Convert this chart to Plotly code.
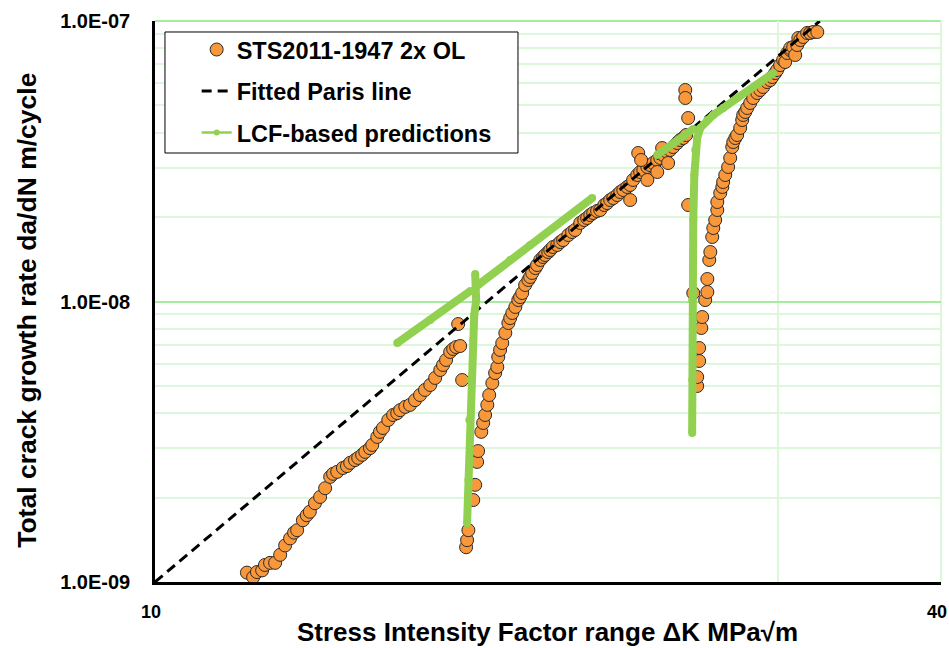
import plotly.graph_objects as go

# Measured crack growth rates, specimen STS2011-1947 with two overloads
dk_meas = [
    11.76, 11.89, 11.97, 12.08, 12.14, 12.25, 12.36, 12.47, 12.58, 12.69,
    12.78, 12.85, 12.98, 13.07, 13.14, 13.26, 13.38, 13.50, 13.62, 13.69,
    13.79, 13.93, 14.03, 14.11, 14.23, 14.31, 14.41, 14.49, 14.61, 14.67,
    14.80, 14.87, 14.95, 15.09, 15.22, 15.33, 15.41, 15.55, 15.68, 15.82,
    15.96, 16.10, 16.25, 16.39, 16.54, 16.62, 16.71, 16.83, 16.92, 17.01,
    17.13, 17.07, 17.19,
    17.31, 17.34, 17.38, 17.53, 17.59, 17.65, 17.68, 17.78, 17.84, 17.90,
    17.97, 18.03, 18.13, 18.22, 18.29, 18.32, 18.38, 18.45, 18.55, 18.65,
    18.71, 18.78, 18.88, 18.98, 19.04, 19.11, 19.21, 19.32, 19.38, 19.45,
    19.56, 19.62, 19.73, 19.83, 19.90, 20.01, 20.08, 20.18, 20.33, 20.44,
    20.54, 20.73, 20.87, 20.98, 21.17, 21.32, 21.43, 21.55, 21.66, 21.81,
    21.93, 22.09, 22.20, 22.32, 22.44, 22.60, 22.72, 22.84, 23.00, 23.12,
    23.24, 23.41, 23.53, 23.66, 23.83, 23.95, 24.08, 24.25, 24.38, 24.51,
    24.68, 24.81, 24.94, 25.12, 25.25, 25.39, 25.52,
    23.12, 23.45, 23.57, 23.83, 24.25, 24.46, 24.72, 25.48, 25.48, 25.61,
    25.61,
    25.84, 26.02, 26.02, 26.11, 26.11, 26.21, 26.25, 26.39, 26.49, 26.49,
    26.58, 26.63, 26.72, 26.77, 26.86, 26.96, 26.96, 27.10, 27.20, 27.24,
    27.34, 27.48, 27.58, 27.68, 27.73, 27.83, 27.92, 28.07, 28.17, 28.22,
    28.32, 28.42, 28.57, 28.72, 28.93, 29.08, 29.23, 29.44, 29.60, 29.70,
    29.86, 29.96, 30.12, 30.28, 30.39, 30.50, 30.66, 30.66, 30.82, 30.93,
    31.04, 31.10, 31.21, 31.37, 31.59, 31.76, 31.93, 32.16,
]
dadn_meas = [
    1.08e-9, 1.04e-9, 1.085e-9, 1.10e-9, 1.15e-9, 1.17e-9, 1.17e-9, 1.25e-9, 1.35e-9, 1.43e-9,
    1.50e-9, 1.53e-9, 1.66e-9, 1.73e-9, 1.78e-9, 1.91e-9, 2.01e-9, 2.16e-9, 2.37e-9, 2.43e-9,
    2.47e-9, 2.55e-9, 2.59e-9, 2.66e-9, 2.72e-9, 2.77e-9, 2.84e-9, 2.91e-9, 3.00e-9, 3.08e-9,
    3.29e-9, 3.43e-9, 3.54e-9, 3.78e-9, 3.94e-9, 4.00e-9, 4.10e-9, 4.21e-9, 4.28e-9, 4.45e-9,
    4.64e-9, 4.84e-9, 5.04e-9, 5.34e-9, 5.70e-9, 5.94e-9, 6.19e-9, 6.61e-9, 6.77e-9, 6.88e-9,
    6.94e-9, 8.31e-9, 5.25e-9,
    1.33e-9, 1.41e-9, 1.53e-9, 1.96e-9, 2.22e-9, 2.68e-9, 2.93e-9, 3.43e-9, 3.69e-9, 3.94e-9,
    4.28e-9, 4.64e-9, 5.12e-9, 5.56e-9, 5.84e-9, 6.34e-9, 6.72e-9, 7.11e-9, 7.72e-9, 8.38e-9,
    8.73e-9, 9.10e-9, 9.56e-9, 1.012e-8, 1.037e-8, 1.072e-8, 1.145e-8, 1.193e-8, 1.223e-8, 1.264e-8,
    1.316e-8, 1.349e-8, 1.406e-8, 1.441e-8, 1.465e-8, 1.501e-8, 1.526e-8, 1.564e-8, 1.590e-8, 1.629e-8,
    1.656e-8, 1.726e-8, 1.769e-8, 1.799e-8, 1.905e-8, 1.952e-8, 1.985e-8, 2.034e-8, 2.068e-8, 2.102e-8,
    2.119e-8, 2.208e-8, 2.244e-8, 2.300e-8, 2.338e-8, 2.396e-8, 2.456e-8, 2.497e-8, 2.560e-8, 2.603e-8,
    2.712e-8, 2.825e-8, 2.895e-8, 2.943e-8, 3.017e-8, 3.066e-8, 3.117e-8, 3.195e-8, 3.248e-8, 3.329e-8,
    3.412e-8, 3.468e-8, 3.554e-8, 3.673e-8, 3.764e-8, 3.827e-8, 3.922e-8,
    2.300e-8, 3.384e-8, 3.195e-8, 2.712e-8, 2.895e-8, 3.525e-8, 3.117e-8, 5.676e-8, 5.315e-8, 4.510e-8,
    2.208e-8,
    1.072e-8, 4.997e-9, 5.380e-9, 6.136e-9, 6.826e-9, 8.045e-9, 8.804e-9, 1.012e-8, 1.081e-8, 1.203e-8,
    1.406e-8, 1.501e-8, 1.698e-8, 1.828e-8, 1.952e-8, 2.119e-8, 2.263e-8, 2.436e-8, 2.560e-8, 2.667e-8,
    2.825e-8, 3.017e-8, 3.248e-8, 3.554e-8, 3.703e-8, 3.827e-8, 3.922e-8, 4.155e-8, 4.436e-8, 4.624e-8,
    4.739e-8, 4.897e-8, 5.102e-8, 5.315e-8, 5.538e-8, 5.676e-8, 5.817e-8, 6.059e-8, 6.159e-8, 6.313e-8,
    6.523e-8, 6.686e-8, 6.965e-8, 7.260e-8, 7.142e-8, 7.689e-8, 7.880e-8, 8.010e-8, 8.076e-8, 7.563e-8,
    8.210e-8, 8.699e-8, 8.553e-8, 8.770e-8, 9.063e-8, 9.063e-8, 9.137e-8, 9.137e-8,
]

# Fitted Paris line (end points of the straight line in log-log space)
dk_paris = [10.0, 32.3]
dadn_paris = [1.0e-9, 1.0e-7]

# LCF-based predictions; None separates the branches around each overload
dk_lcf = [
    15.33, 16.25, 17.44, None,
    17.34, 17.38, 17.41, 17.44, 17.53, 17.56, 17.62, 17.59, None,
    17.68, 18.71, 19.38, 21.62, None,
    24.25, 25.84, None,
    25.79, 25.79, 25.79, 25.84, 25.89, 25.93, 26.02, 26.16, 26.49, 26.77, 27.24, 29.75,
]
dadn_lcf = [
    7.11e-9, 8.59e-9, 1.090e-8, None,
    1.62e-9, 2.31e-9, 3.78e-9, 5.25e-9, 7.29e-9, 8.95e-9, 1.012e-8, 1.253e-8, None,
    1.145e-8, 1.406e-8, 1.590e-8, 2.338e-8, None,
    3.329e-8, 4.121e-8, None,
    3.40e-9, 5.25e-9, 1.012e-8, 1.952e-8, 2.825e-8, 3.468e-8, 3.827e-8, 4.155e-8, 4.436e-8, 4.624e-8, 4.897e-8, 6.523e-8,
]

# Axis ticks
x_ticks = [10, 30, 40]
x_tick_text = ["10", "", "40"]
y_ticks = [1e-9, 1e-8, 1e-7]
y_tick_text = ["1.0E-09", "1.0E-08", "1.0E-07"]
y_minor = [2e-9, 3e-9, 4e-9, 5e-9, 6e-9, 7e-9, 8e-9, 9e-9,
           2e-8, 3e-8, 4e-8, 5e-8, 6e-8, 7e-8, 8e-8, 9e-8]

ORANGE = "#F9983A"
GREEN = "#92D050"
GRID_MAJOR = "#A6EBA0"
GRID_MINOR = "#DDF7DA"
SANS = "Liberation Sans, Arial, sans-serif"

fig = go.Figure()

fig.add_trace(go.Scatter(
    x=dk_meas, y=dadn_meas, mode="markers", name="STS2011-1947 2x OL",
    legendgroup="meas",
    marker=dict(size=13, color=ORANGE, line=dict(color="#2a2a2a", width=1)),
))
fig.add_trace(go.Scatter(
    x=dk_paris, y=dadn_paris, mode="lines", name="Fitted Paris line",
    legendgroup="paris",
    line=dict(color="black", width=3, dash="10px,6px"),
))
fig.add_trace(go.Scatter(
    x=dk_lcf, y=dadn_lcf, mode="lines+markers", name="LCF-based predictions",
    legendgroup="lcf", showlegend=False, connectgaps=False,
    line=dict(color=GREEN, width=8),
    marker=dict(size=8, color=GREEN),
))
# legend entry for the prediction curve (thin line with a dot)
fig.add_trace(go.Scatter(
    x=[None], y=[None], mode="lines+markers", name="LCF-based predictions",
    legendgroup="lcf",
    line=dict(color=GREEN, width=2.5),
    marker=dict(size=6, color=GREEN),
))

# top and right frame lines in grid colour
fig.add_shape(type="line", xref="paper", yref="paper", x0=0, x1=1, y0=1, y1=1,
              line=dict(color=GRID_MAJOR, width=2), layer="below")
fig.add_shape(type="line", xref="paper", yref="paper", x0=1, x1=1, y0=0, y1=1,
              line=dict(color=GRID_MINOR, width=2), layer="below")

# legend frame
fig.add_shape(
    type="rect", xref="paper", yref="paper",
    x0=0.0127, x1=0.4618, y0=0.7647, y1=0.9804,
    fillcolor="white", line=dict(color="black", width=1), layer="above",
)

# axis titles placed as annotations
fig.add_annotation(
    text="Total crack growth rate da/dN m/cycle",
    xref="paper", yref="paper", x=-0.163, y=0.485,
    xanchor="center", yanchor="middle", textangle=-90, showarrow=False,
    font=dict(family=SANS, size=26.5, color="black", weight=700),
)
fig.add_annotation(
    text="Stress Intensity Factor range \u0394K MPa\u221am",
    xref="paper", yref="paper", x=0.499, y=-0.089,
    xanchor="center", yanchor="middle", showarrow=False,
    font=dict(family=SANS, size=26, color="black", weight=700),
)

fig.update_layout(
    width=949, height=648,
    margin=dict(l=155, r=8, t=21, b=66),
    paper_bgcolor="white", plot_bgcolor="white",
    showlegend=True,
    legend=dict(
        x=0.053, y=0.988, xanchor="left", yanchor="top",
        bgcolor="rgba(0,0,0,0)", borderwidth=0,
        font=dict(family=SANS, size=23.5, color="black", weight=700),
        tracegroupgap=8,
    ),
    xaxis=dict(
        type="log", range=[1.0, 1.60206], automargin=False,
        tickmode="array", tickvals=x_ticks, ticktext=x_tick_text,
        showgrid=True, gridcolor=GRID_MINOR, gridwidth=1.5,
        showline=True, linecolor="black", linewidth=2.5,
        ticks="", ticklabelstandoff=12, ticklabelshift=-4,
        ticklabeloverflow="allow",
        tickfont=dict(family=SANS, size=18, color="black", weight=700),
    ),
    yaxis=dict(
        type="log", range=[-9, -7], automargin=False,
        tickmode="array", tickvals=y_ticks, ticktext=y_tick_text,
        showgrid=True, gridcolor=GRID_MAJOR, gridwidth=1.5,
        minor=dict(tickmode="array", tickvals=y_minor, showgrid=True,
                   gridcolor=GRID_MINOR, gridwidth=1.5, ticks=""),
        showline=True, linecolor="black", linewidth=2.5,
        ticks="", ticklabelstandoff=18,
        tickfont=dict(family=SANS, size=20, color="black", weight=700),
    ),
)

fig.write_html("out.html")
